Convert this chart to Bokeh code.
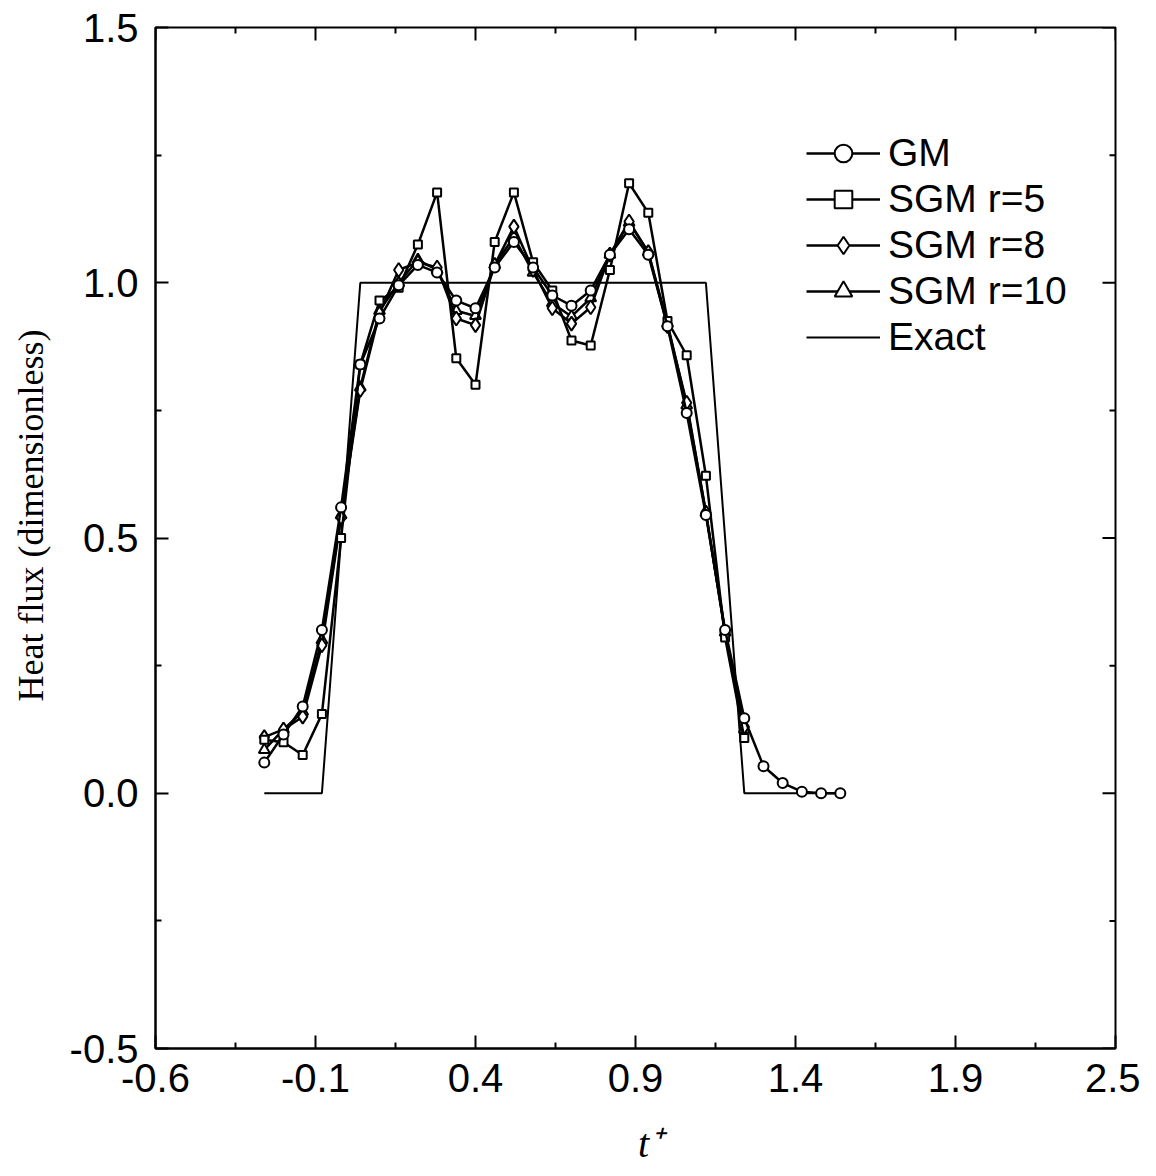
from bokeh.plotting import figure
from bokeh.models import Range1d, FixedTicker, Legend, LegendItem
from bokeh.embed import file_html
from bokeh.resources import INLINE

# ---------------- data ----------------
t = [-0.26, -0.20, -0.14, -0.08, -0.02, 0.04, 0.10, 0.16, 0.22, 0.28,
     0.34, 0.40, 0.46, 0.52, 0.58, 0.64, 0.70, 0.76, 0.82, 0.88,
     0.94, 1.00, 1.06, 1.12, 1.18, 1.24, 1.30, 1.36, 1.42, 1.48, 1.54]

gm = [0.06, 0.115, 0.17, 0.32, 0.56, 0.84, 0.93, 0.995, 1.035, 1.02,
      0.965, 0.95, 1.03, 1.08, 1.03, 0.975, 0.955, 0.985, 1.055, 1.105,
      1.055, 0.915, 0.745, 0.545, 0.32, 0.147, 0.053, 0.02, 0.003, 0.0, 0.0]

sgm5 = [0.105, 0.10, 0.075, 0.155, 0.50, 0.84, 0.965, 0.99, 1.075, 1.177,
        0.852, 0.80, 1.08, 1.177, 1.04, 0.985, 0.887, 0.877, 1.025, 1.195,
        1.137, 0.925, 0.858, 0.622, 0.305, 0.108]

sgm8 = [0.11, 0.125, 0.15, 0.29, 0.54, 0.79, 0.94, 1.025, 1.04, 1.03,
        0.93, 0.917, 1.035, 1.11, 1.025, 0.95, 0.92, 0.952, 1.055, 1.12,
        1.06, 0.915, 0.765, 0.55, 0.315, 0.13]

sgm10 = [0.085, 0.125, 0.16, 0.30, 0.545, 0.795, 0.945, 1.0, 1.045, 1.025,
         0.945, 0.935, 1.035, 1.09, 1.02, 0.96, 0.934, 0.97, 1.055, 1.118,
         1.06, 0.92, 0.76, 0.55, 0.315, 0.125]

t_exact = [-0.26, -0.08, 0.04, 1.12, 1.24, 1.54]
q_exact = [0.0, 0.0, 1.0, 1.0, 0.0, 0.0]

x_ticks = [-0.6, -0.1, 0.4, 0.9, 1.4, 1.9, 2.4]
x_tick_labels = ["-0.6", "-0.1", "0.4", "0.9", "1.4", "1.9", "2.5"]
x_minor = [-0.35, 0.15, 0.65, 1.15, 1.65, 2.15]
y_ticks = [-0.5, 0.0, 0.5, 1.0, 1.5]
y_tick_labels = ["-0.5", "0.0", "0.5", "1.0", "1.5"]
y_minor = [-0.25, 0.25, 0.75, 1.25]

labels = ["GM", "SGM r=5", "SGM r=8", "SGM r=10", "Exact"]
NB = "\u00a0"

# ---------------- figure ----------------
X0, X1, Y0, Y1 = -0.6, 2.4, -0.5, 1.5
FW, FH = 960, 1026          # frame size in px
p = figure(width=1140, height=1168, output_backend="svg", toolbar_location=None,
           x_range=Range1d(X0, X1), y_range=Range1d(Y0, Y1),
           min_border_left=155, min_border_top=27, min_border_right=25,
           min_border_bottom=115)
p.xgrid.visible = False
p.ygrid.visible = False
p.outline_line_color = "black"
p.outline_line_width = 2
p.background_fill_color = "white"
p.border_fill_color = "white"

xt = FixedTicker(ticks=x_ticks, minor_ticks=x_minor)
yt = FixedTicker(ticks=y_ticks, minor_ticks=y_minor)

MAJ, MIN = 13, 6   # tick lengths in px

def style_axis(ax):
    ax.axis_line_width = 2
    ax.axis_line_color = "black"
    ax.major_tick_in = MAJ
    ax.major_tick_out = 0
    ax.minor_tick_in = MIN
    ax.minor_tick_out = 0
    ax.major_tick_line_width = 2
    ax.minor_tick_line_width = 2
    ax.major_tick_line_color = "black"
    ax.minor_tick_line_color = "black"
    ax.major_label_text_font = "Liberation Sans"
    ax.major_label_text_font_size = "40px"
    ax.major_label_text_color = "black"
    ax.major_label_standoff = 15

xa = p.xaxis[0]
xa.ticker = xt
xa.major_label_overrides = {v: s for v, s in zip(x_ticks, x_tick_labels)}
style_axis(xa)
xa.axis_label = NB * 3 + "t\u207a"
xa.axis_label_text_font = "Liberation Serif"
xa.axis_label_text_font_style = "italic"
xa.axis_label_text_font_size = "40px"
xa.axis_label_standoff = 26
xa.axis_label_text_color = "black"

ya = p.yaxis[0]
ya.ticker = yt
ya.major_label_overrides = {v: s for v, s in zip(y_ticks, y_tick_labels)}
style_axis(ya)
ya.major_label_standoff = 17
ya.axis_label = NB * 5 + "Heat flux (dimensionless)"
ya.axis_label_text_font = "Liberation Serif"
ya.axis_label_text_font_style = "normal"
ya.axis_label_text_font_size = "36px"
ya.axis_label_standoff = 16
ya.axis_label_text_color = "black"

# mirrored inward tick marks on the top and right frame edges (no labels)
px_x = (X1 - X0) / FW
px_y = (Y1 - Y0) / FH
p.segment(x0=x_ticks, y0=[Y1] * len(x_ticks), x1=x_ticks,
          y1=[Y1 - MAJ * px_y] * len(x_ticks), line_color="black", line_width=2)
p.segment(x0=x_minor, y0=[Y1] * len(x_minor), x1=x_minor,
          y1=[Y1 - MIN * px_y] * len(x_minor), line_color="black", line_width=2)
p.segment(x0=[X1] * len(y_ticks), y0=y_ticks, x1=[X1 - MAJ * px_x] * len(y_ticks),
          y1=y_ticks, line_color="black", line_width=2)
p.segment(x0=[X1] * len(y_minor), y0=y_minor, x1=[X1 - MIN * px_x] * len(y_minor),
          y1=y_minor, line_color="black", line_width=2)

# ---------------- series ----------------
lw = 2.5
ex = p.line(t_exact, q_exact, line_color="black", line_width=2)

l10 = p.line(t[:len(sgm10)], sgm10, line_color="black", line_width=lw)
s10 = p.scatter(t[:len(sgm10)], sgm10, marker="triangle", size=11,
                fill_color="white", line_color="black", line_width=2)
l8 = p.line(t[:len(sgm8)], sgm8, line_color="black", line_width=lw)
s8 = p.scatter(t[:len(sgm8)], sgm8, marker="diamond", size=14,
               fill_color="white", line_color="black", line_width=2)
l5 = p.line(t[:len(sgm5)], sgm5, line_color="black", line_width=lw)
s5 = p.scatter(t[:len(sgm5)], sgm5, marker="square", size=8,
               fill_color="white", line_color="black", line_width=2)
lg = p.line(t, gm, line_color="black", line_width=lw)
sg = p.scatter(t, gm, marker="circle", size=10,
               fill_color="white", line_color="black", line_width=2)

items = [
    LegendItem(label=labels[0], renderers=[lg, sg]),
    LegendItem(label=labels[1], renderers=[l5, s5]),
    LegendItem(label=labels[2], renderers=[l8, s8]),
    LegendItem(label=labels[3], renderers=[l10, s10]),
    LegendItem(label=labels[4], renderers=[ex]),
]
legend = Legend(items=items, location=(651, 689))
legend.background_fill_alpha = 0
legend.border_line_color = None
legend.label_text_font = "Liberation Sans"
legend.label_text_font_size = "39px"
legend.label_text_color = "black"
legend.glyph_width = 74
legend.glyph_height = 44
legend.label_height = 44
legend.spacing = 2
legend.padding = 0
legend.margin = 0
legend.label_standoff = 8
p.add_layout(legend, "center")

open("out.html", "w").write(file_html(p, INLINE))
